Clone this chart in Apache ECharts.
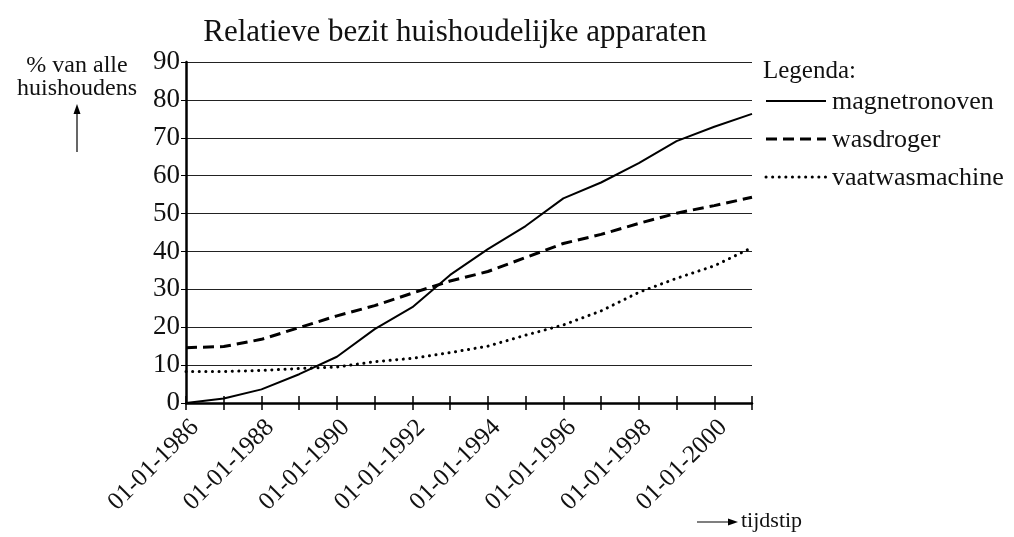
<!DOCTYPE html>
<html>
<head>
<meta charset="utf-8">
<script src="https://cdn.jsdelivr.net/npm/echarts@6/dist/echarts.min.js"></script>
<style>html,body{margin:0;padding:0;background:#fff}#c{width:1014px;height:537px}</style>
</head>
<body>
<div id="c"></div>
<script>
const years = ['1986','1987','1988','1989','1990','1991','1992','1993','1994','1995','1996','1997','1998','1999','2000','2001'];
const categories = years.map(y => '01-01-' + y);
const seriesNames = ['magnetronoven', 'wasdroger', 'vaatwasmachine'];
const magnetronoven = [0, 1.2, 3.6, 7.6, 12.2, 19.5, 25.3, 33.8, 40.6, 46.7, 54.0, 58.2, 63.3, 69.1, 72.9, 76.3];
const wasdroger = [14.6, 14.9, 16.8, 19.9, 23.0, 25.7, 29.0, 32.2, 34.7, 38.4, 42.1, 44.5, 47.4, 50.1, 52.1, 54.3];
const vaatwasmachine = [8.3, 8.3, 8.6, 9.1, 9.5, 10.9, 11.8, 13.3, 15.0, 17.9, 20.6, 24.3, 29.2, 32.9, 36.2, 41.0];
const yTicks = { min: 0, max: 90, interval: 10 };

const FONT = '"Liberation Serif", "Times New Roman", serif';
const styles = [
  { color: '#000', width: 2, type: 'solid' },
  { color: '#000', width: 3, type: [11, 6] },
  { color: '#000', width: 3, type: [0.1, 6.5], cap: 'round' }
];
const seriesData = [magnetronoven, wasdroger, vaatwasmachine];

const legendGraphics = [];
seriesNames.forEach((n, i) => {
  const y = 101 + i * 38;
  legendGraphics.push({ type: 'line', shape: { x1: 766, y1: y, x2: 826, y2: y },
    style: { stroke: '#000', lineWidth: styles[i].width, lineDash: Array.isArray(styles[i].type) ? styles[i].type : null, lineCap: styles[i].cap || 'butt' } });
  legendGraphics.push({ type: 'text', x: 832, y: y + 1, style: { text: n, fontFamily: FONT, fontSize: 26, fill: '#111', verticalAlign: 'middle' } });
});

const chart = echarts.init(document.getElementById('c'));
chart.setOption({
  backgroundColor: '#fff',
  animation: false,
  textStyle: { fontFamily: FONT, color: '#111' },
  title: {
    text: 'Relatieve bezit huishoudelijke apparaten',
    left: 450, top: 12, textAlign: 'center',
    textStyle: { fontFamily: FONT, fontSize: 31, fontWeight: 'normal', color: '#111' }
  },
  grid: { left: 186, right: 262, top: 62, bottom: 134 },
  xAxis: [{
    type: 'category', data: categories, boundaryGap: false,
    axisLine: { lineStyle: { color: '#000', width: 2.5 } },
    axisTick: { show: true, interval: 0, length: 7, lineStyle: { color: '#000', width: 1.5 } },
    axisLabel: { interval: 1, rotate: 45, fontSize: 25, margin: 12, verticalAlign: 'top', color: '#111', fontFamily: FONT },
    splitLine: { show: false }
  }, {
    type: 'category', data: categories, boundaryGap: false, position: 'bottom',
    axisLine: { show: false },
    axisTick: { show: true, inside: true, interval: 0, length: 7, lineStyle: { color: '#000', width: 1.5 } },
    axisLabel: { show: false },
    splitLine: { show: false }
  }],
  yAxis: {
    type: 'value', min: yTicks.min, max: yTicks.max, interval: yTicks.interval,
    axisLine: { show: true, lineStyle: { color: '#000', width: 2.5 } },
    axisTick: { show: true, length: 5, lineStyle: { color: '#000', width: 1 } },
    axisLabel: { fontSize: 27, margin: 6, color: '#111', fontFamily: FONT },
    splitLine: { show: true, lineStyle: { color: '#222', width: 1 } }
  },
  series: seriesNames.map((n, i) => ({
    name: n, type: 'line', data: seriesData[i], symbol: 'none', xAxisIndex: 0,
    lineStyle: styles[i], itemStyle: { color: '#000' }
  })),
  graphic: [
    { type: 'text', left: 763, top: 59, style: { text: 'Legenda:', fontFamily: FONT, fontSize: 25, fill: '#111' } },
    ...legendGraphics,
    { type: 'text', x: 77, y: 66, style: { text: '% van alle', fontFamily: FONT, fontSize: 24, fill: '#111', align: 'center', verticalAlign: 'middle' } },
    { type: 'text', x: 77, y: 89, style: { text: 'huishoudens', fontFamily: FONT, fontSize: 24, fill: '#111', align: 'center', verticalAlign: 'middle' } },
    { type: 'line', shape: { x1: 77, y1: 152, x2: 77, y2: 112 }, style: { stroke: '#000', lineWidth: 1.2 } },
    { type: 'polygon', shape: { points: [[77, 104], [73.5, 114], [80.5, 114]] }, style: { fill: '#000' } },
    { type: 'line', shape: { x1: 697, y1: 522, x2: 730, y2: 522 }, style: { stroke: '#000', lineWidth: 1.2 } },
    { type: 'polygon', shape: { points: [[738, 522], [728, 518.5], [728, 525.5]] }, style: { fill: '#000' } },
    { type: 'text', x: 741, y: 521, style: { text: 'tijdstip', fontFamily: FONT, fontSize: 22, fill: '#111', verticalAlign: 'middle' } }
  ]
});
</script>
</body>
</html>
